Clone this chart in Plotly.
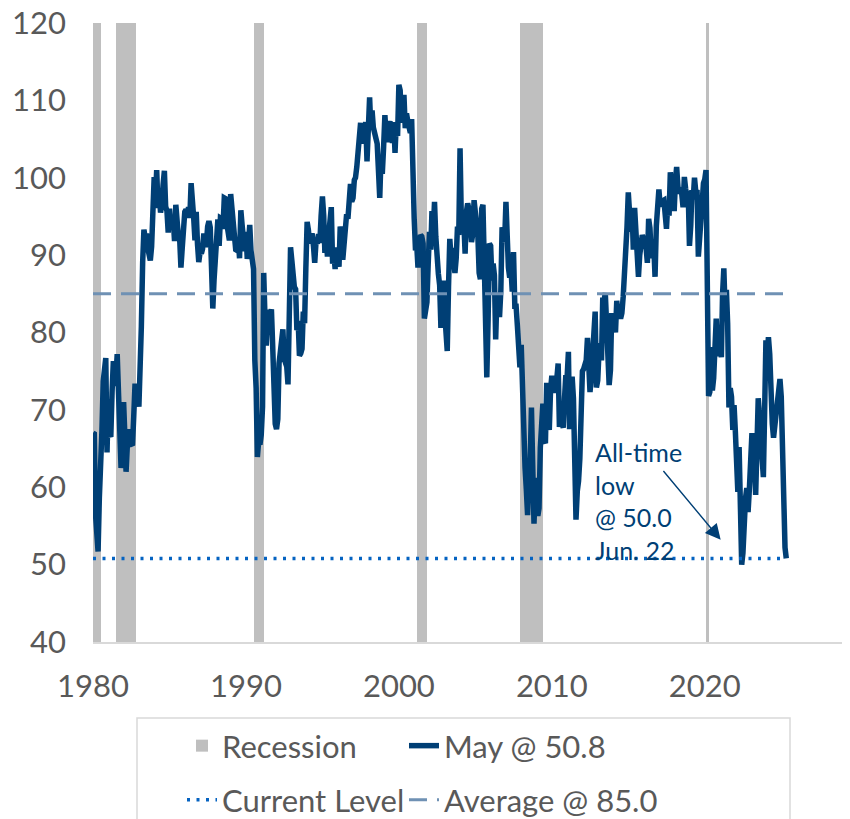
import pandas as pd
import plotly.graph_objects as go

# ---------------- data ----------------
start_month = "1980-01-01"
sentiment = [
    # 1980
    67.0, 66.9, 56.5, 52.7, 51.7, 58.7, 62.3, 67.3, 73.7, 75.0, 76.7, 64.5,
    # 1981
    71.4, 66.9, 66.5, 72.4, 76.3, 73.1, 74.1, 77.2, 73.1, 70.3, 62.5, 64.3,
    # 1982
    71.0, 66.5, 62.0, 65.5, 67.5, 65.7, 65.4, 65.4, 69.3, 73.4, 72.1, 71.9,
    # 1983
    70.4, 74.6, 80.8, 89.1, 93.3, 92.2, 92.8, 90.9, 89.9, 89.3, 91.1, 94.2,
    # 1984
    100.1, 97.4, 101.0, 96.1, 98.1, 95.5, 96.6, 99.1, 100.9, 96.3, 95.7, 92.9,
    # 1985
    96.0, 93.7, 93.7, 94.6, 91.8, 96.5, 94.0, 92.4, 92.1, 88.4, 90.9, 93.9,
    # 1986
    95.6, 95.9, 95.1, 96.2, 94.8, 99.3, 97.7, 94.9, 91.9, 95.6, 91.4, 89.1,
    # 1987
    90.4, 90.2, 90.8, 92.8, 91.1, 91.5, 93.7, 94.4, 93.6, 89.3, 83.1, 86.8,
    # 1988
    90.8, 91.6, 94.6, 91.2, 94.8, 94.7, 93.4, 97.4, 97.3, 94.1, 93.0, 91.9,
    # 1989
    97.9, 95.4, 94.3, 91.5, 90.7, 90.6, 92.0, 89.6, 95.8, 93.9, 90.9, 90.5,
    # 1990
    93.0, 89.5, 91.3, 93.9, 90.6, 88.3, 88.2, 76.4, 72.8, 63.9, 66.0, 65.5,
    # 1991
    66.8, 70.4, 87.7, 81.8, 78.3, 82.1, 82.9, 82.0, 83.0, 78.3, 69.1, 68.2,
    # 1992
    67.5, 68.8, 76.0, 77.2, 79.2, 80.4, 76.6, 76.1, 75.6, 73.3, 85.3, 91.0,
    # 1993
    89.3, 86.6, 85.9, 85.6, 80.3, 81.5, 77.0, 77.3, 77.9, 82.7, 81.2, 88.2,
    # 1994
    94.3, 93.2, 91.5, 92.6, 92.8, 91.2, 89.0, 91.7, 91.5, 92.7, 91.6, 95.1,
    # 1995
    97.6, 95.1, 90.3, 92.5, 89.8, 92.7, 94.4, 96.2, 88.9, 90.2, 88.2, 91.0,
    # 1996
    89.3, 88.5, 93.7, 92.7, 89.4, 92.4, 94.7, 95.3, 94.7, 96.5, 99.2, 96.9,
    # 1997
    97.4, 99.7, 100.0, 101.4, 103.2, 104.5, 107.1, 104.4, 106.0, 105.6, 107.2, 102.1,
    # 1998
    106.6, 110.4, 106.5, 108.7, 106.5, 105.6, 105.2, 104.4, 100.9, 97.4, 102.7, 100.5,
    # 1999
    103.9, 108.1, 105.7, 104.6, 106.8, 107.3, 106.0, 104.5, 107.2, 103.2, 107.2, 105.4,
    # 2000
    112.0, 111.3, 107.1, 109.2, 110.7, 106.4, 108.3, 107.3, 106.8, 105.8, 107.6, 98.4,
    # 2001
    94.7, 90.6, 91.5, 88.4, 92.0, 92.6, 92.4, 91.5, 81.8, 82.7, 83.9, 88.8,
    # 2002
    93.0, 90.7, 95.7, 93.0, 96.9, 92.4, 88.1, 87.6, 86.1, 80.6, 84.2, 86.7,
    # 2003
    82.4, 79.9, 77.6, 86.0, 92.1, 89.7, 90.9, 89.3, 87.7, 89.6, 93.7, 92.6,
    # 2004
    103.8, 94.4, 95.8, 94.2, 90.2, 95.6, 96.7, 95.9, 94.2, 91.7, 92.8, 97.1,
    # 2005
    95.5, 94.1, 92.6, 87.7, 86.9, 96.0, 96.5, 89.1, 76.9, 74.2, 81.6, 91.5,
    # 2006
    91.2, 86.7, 88.9, 87.4, 79.1, 84.9, 84.7, 82.0, 85.4, 93.6, 92.1, 91.7,
    # 2007
    96.9, 91.3, 88.4, 87.1, 88.3, 85.3, 90.4, 83.4, 83.4, 80.9, 76.1, 75.5,
    # 2008
    78.4, 70.8, 69.5, 62.6, 59.8, 56.4, 61.2, 63.0, 70.3, 57.6, 55.3, 60.1,
    # 2009
    61.2, 56.3, 57.3, 65.1, 68.7, 70.8, 66.0, 65.7, 73.5, 70.6, 67.4, 72.5,
    # 2010
    74.4, 73.6, 73.6, 72.2, 73.6, 76.0, 67.8, 68.9, 68.2, 67.7, 71.6, 74.5,
    # 2011
    74.2, 77.5, 67.5, 69.8, 74.3, 71.5, 63.7, 55.8, 59.5, 60.8, 63.7, 69.9,
    # 2012
    75.0, 75.3, 76.2, 76.4, 79.3, 73.2, 72.3, 74.3, 78.3, 82.6, 82.7, 72.9,
    # 2013
    73.8, 77.6, 78.6, 76.4, 84.5, 84.1, 85.1, 82.1, 77.5, 73.2, 75.1, 82.5,
    # 2014
    81.2, 81.6, 80.0, 84.1, 81.9, 82.5, 81.8, 82.5, 84.6, 86.9, 88.8, 93.6,
    # 2015
    98.1, 95.4, 93.0, 95.9, 90.7, 96.1, 93.1, 91.9, 87.2, 90.0, 91.3, 92.6,
    # 2016
    92.0, 91.7, 91.0, 89.0, 94.7, 93.5, 90.0, 89.8, 91.2, 87.2, 93.8, 98.2,
    # 2017
    98.5, 96.3, 96.9, 97.0, 97.1, 95.0, 93.4, 96.8, 95.1, 100.7, 98.5, 95.9,
    # 2018
    95.7, 99.7, 101.4, 98.8, 98.0, 98.2, 97.9, 96.2, 100.1, 98.6, 97.5, 98.3,
    # 2019
    91.2, 93.8, 98.4, 97.2, 100.0, 98.2, 98.4, 89.8, 93.2, 95.5, 96.8, 99.3,
    # 2020
    99.8, 101.0, 89.1, 71.8, 72.3, 78.1, 72.5, 74.1, 80.4, 81.8, 76.9, 80.7,
    # 2021
    79.0, 76.8, 84.9, 88.3, 82.9, 85.5, 81.2, 70.3, 72.8, 71.7, 67.4, 70.6,
    # 2022
    67.2, 62.8, 59.4, 65.2, 58.4, 50.0, 51.5, 58.2, 58.6, 59.9, 56.8, 59.7,
    # 2023
    64.9, 67.0, 62.0, 63.7, 59.0, 64.2, 71.5, 69.4, 67.9, 63.8, 61.3, 69.7,
    # 2024
    79.0, 76.9, 79.4, 77.2, 69.1, 68.2, 66.4, 67.9, 70.1, 70.5, 71.8, 74.0,
    # 2025
    71.7, 64.7, 57.0, 52.2, 50.8,
]
recession_start = ["1980-01-01", "1981-07-01", "1990-07-01", "2001-03-01", "2007-12-01", "2020-02-01"]
recession_end = ["1980-07-01", "1982-11-01", "1991-03-01", "2001-11-01", "2009-06-01", "2020-04-01"]
average_level = 85.0
current_level = 50.8
low_value = 50.0
tick_years = ["1980", "1990", "2000", "2010", "2020"]
y_ticks = [40, 50, 60, 70, 80, 90, 100, 110, 120]

# ---------------- build ----------------
dates = pd.date_range(start_month, periods=len(sentiment), freq="MS")
rs = pd.to_datetime(recession_start)
re_ = pd.to_datetime(recession_end)
mids = rs + (re_ - rs) / 2
widths = [(e - s).total_seconds() * 1000 for s, e in zip(rs, re_)]

NAVY = "#003F75"
GRAY_TXT = "#595959"
FONT = "Lato, 'Open Sans', sans-serif"

# page body has an 8px default margin: figure is 842x811, plot area 757 px wide
PL, PW, PH = 93, 757, 619  # plot left (in screen px), plot width, plot height


def px_x(p):
    return (p - PL) / PW


def px_y(p):
    return (642 - p) / PH


fig = go.Figure()
fig.add_trace(go.Bar(
    x=mids, y=[120 - 40] * len(mids), base=[40] * len(mids), width=widths,
    marker=dict(color="#BFBFBF", line=dict(width=0)),
    name="Recession", legend="legend", hoverinfo="skip",
))
fig.add_trace(go.Scatter(
    x=dates, y=sentiment, mode="lines", name="May @ 50.8", legend="legend3",
    line=dict(color=NAVY, width=5.5),
))
fig.add_trace(go.Scatter(
    x=[dates[0], dates[-1]], y=[current_level, current_level], mode="lines",
    name="Current Level", legend="legend2",
    line=dict(color="#0563C1", width=3.5, dash="3px,6.5px"),
))
fig.add_trace(go.Scatter(
    x=[dates[0], dates[-1]], y=[average_level, average_level], mode="lines",
    name="Average @ 85.0", legend="legend4",
    line=dict(color="#6F91B4", width=3, dash="18px,10px"),
))

# annotation text + arrow
fig.add_annotation(
    x="2012-09-01", y=66.8, xref="x", yref="y", xanchor="left", yanchor="top",
    text="All-time<br>low<br>@ 50.0<br>Jun. 22", showarrow=False, align="left",
    font=dict(family=FONT, size=25, color=NAVY),
)
fig.add_annotation(
    x="2021-01-15", y=53.2, ax="2017-03-20", ay=62.3, xref="x", yref="y",
    axref="x", ayref="y", text="", showarrow=True, arrowhead=2, arrowsize=2.2,
    arrowwidth=1.4, arrowcolor=NAVY,
)

# legend border box
fig.add_shape(
    type="rect", xref="paper", yref="paper",
    x0=px_x(137), x1=px_x(790), y0=px_y(830), y1=px_y(718),
    line=dict(color="#D9D9D9", width=1.5), fillcolor="rgba(0,0,0,0)", layer="below",
)

leg_common = dict(
    orientation="h", xanchor="left", yanchor="middle",
    font=dict(family=FONT, size=31, color=GRAY_TXT),
    bgcolor="rgba(0,0,0,0)", itemsizing="trace",
)

fig.update_layout(
    width=842, height=811,
    margin=dict(l=85, r=0, t=15, b=177, autoexpand=False),
    plot_bgcolor="white", paper_bgcolor="white",
    font=dict(family=FONT, size=30, color=GRAY_TXT),
    showlegend=True,
    legend=dict(x=px_x(182), y=px_y(746), **leg_common),
    legend3=dict(x=px_x(404), y=px_y(746), **leg_common),
    legend2=dict(x=px_x(182), y=px_y(800), **leg_common),
    legend4=dict(x=px_x(404), y=px_y(800), **leg_common),
    xaxis=dict(
        type="date", range=["1980-01-01", "2029-07-01"], automargin=False,
        tickvals=[f"{y}-01-01" for y in tick_years], ticktext=tick_years,
        showgrid=False, zeroline=False, showline=True, linecolor="#D9D9D9", linewidth=2,
        ticks="", ticklabelstandoff=16, ticklabeloverflow="allow",
        tickfont=dict(family=FONT, size=31, color=GRAY_TXT),
    ),
    yaxis=dict(
        range=[40, 120], tickvals=y_ticks, showgrid=False, zeroline=False, automargin=False,
        showline=False, ticks="", ticklabelstandoff=26, ticklabeloverflow="allow",
        tickfont=dict(family=FONT, size=31, color=GRAY_TXT),
    ),
    bargap=0,
)

fig.write_html("out.html")
